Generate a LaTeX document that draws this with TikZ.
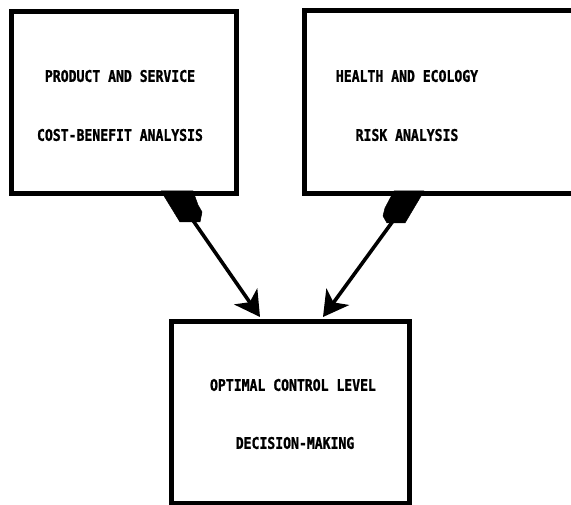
\documentclass[tikz,border=0pt]{standalone}
\usepackage{fontspec}
\newfontfamily\labelfont[FakeStretch=0.82,FakeBold=1.2]{DejaVu Sans Mono}
\usetikzlibrary{arrows.meta}
\begin{document}
\begin{tikzpicture}[x=1pt,y=-1pt,
  box/.style={draw=black,line width=4.6pt,rectangle,inner sep=0pt,anchor=north west},
  lbl/.style={font=\labelfont\bfseries\fontsize{16}{16}\selectfont,inner sep=0pt},
  tail/.style={fill=black,draw=black,line width=0.5pt,line join=round},
  arr/.style={line width=3.6pt,-{Stealth[length=25pt,width=28pt,inset=7pt]}}]
\useasboundingbox (0,0) rectangle (571,505);
\clip (0,0) rectangle (571,505);
% boxes
\node[box,minimum width=225pt,minimum height=182pt] (b1) at (9,9) {};
\node[box,minimum width=290pt,minimum height=183pt] (b2) at (302,8) {};
\node[box,minimum width=238pt,minimum height=182pt] (b3) at (169,319) {};
% labels
\node[lbl] (l1a) at (120,76) {PRODUCT AND SERVICE};
\node[lbl] (l1b) at (120,135) {COST-BENEFIT ANALYSIS};
\node[lbl] (l2a) at (407,76) {HEALTH AND ECOLOGY};
\node[lbl] (l2b) at (407,135) {RISK ANALYSIS};
\node[lbl] (l3a) at (293,385) {OPTIMAL CONTROL LEVEL};
\node[lbl] (l3b) at (295,443) {DECISION-MAKING};
% tails
\draw[tail] (161,191) -- (193,191) -- (198,205) -- (202,212) -- (200,222) -- (180,222) -- cycle;
\draw[tail] (394,191) -- (424,191) -- (405,223) -- (387,223) -- (383,216) -- (385,208) -- cycle;
% connectors
\coordinate (t1) at (192,219);
\coordinate (t2) at (393,221);
\coordinate (h1) at ([xshift=91pt,yshift=2pt]b3.north west);
\coordinate (h2) at ([xshift=154pt,yshift=2pt]b3.north west);
\draw[arr] (t1) -- (h1);
\draw[arr] (t2) -- (h2);
\end{tikzpicture}
\end{document}
